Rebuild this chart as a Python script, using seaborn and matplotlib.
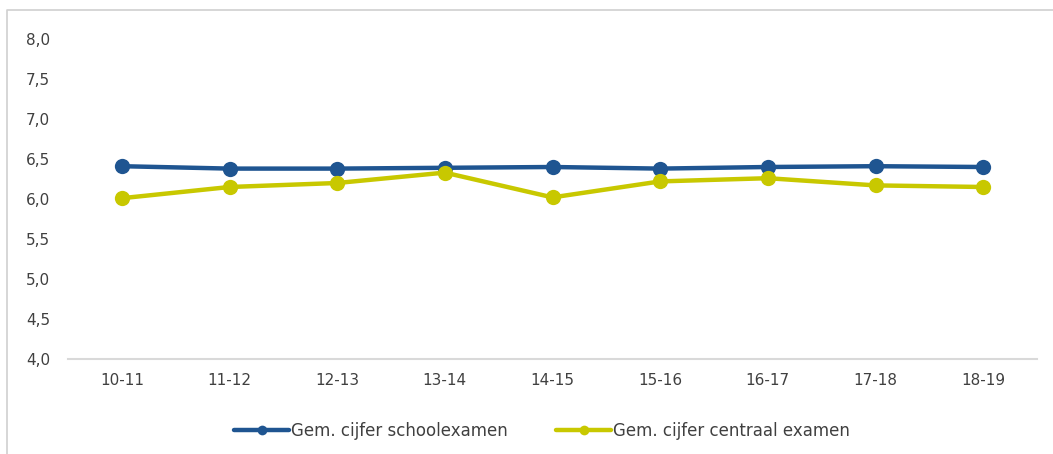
import matplotlib
matplotlib.use("Agg")
import matplotlib.pyplot as plt
import seaborn as sns
import pandas as pd
from matplotlib.lines import Line2D

categories = ["10-11", "11-12", "12-13", "13-14", "14-15", "15-16", "16-17", "17-18", "18-19"]
school_exam = [6.41, 6.38, 6.38, 6.39, 6.40, 6.38, 6.40, 6.41, 6.40]
central_exam = [6.01, 6.15, 6.20, 6.33, 6.02, 6.22, 6.26, 6.17, 6.15]
series_names = ["Gem. cijfer schoolexamen", "Gem. cijfer centraal examen"]
y_ticks = [4.0, 4.5, 5.0, 5.5, 6.0, 6.5, 7.0, 7.5, 8.0]
y_tick_labels = ["4,0", "4,5", "5,0", "5,5", "6,0", "6,5", "7,0", "7,5", "8,0"]

colors = {series_names[0]: "#1F5591", series_names[1]: "#C8C800"}
text_color = "#404040"

df = pd.DataFrame({
    "jaar": categories * 2,
    "cijfer": school_exam + central_exam,
    "serie": [series_names[0]] * len(categories) + [series_names[1]] * len(categories),
})

sns.set_style("white")
plt.rcParams['font.family'] = ['DejaVu Sans']

fig = plt.figure(figsize=(10.53, 4.54), dpi=100)
W, H = 1053, 454
ax = fig.add_axes([68 / W, 1 - 359 / H, (1037 - 68) / W, (359 - 39) / H])

sns.lineplot(data=df, x="jaar", y="cijfer", hue="serie", palette=colors,
             marker="o", markersize=11, markeredgewidth=0, linewidth=3.2,
             sort=False, ax=ax, legend=False)

ax.set_xlim(-0.5, len(categories) - 0.5)
ax.set_ylim(4.0, 8.0)
ax.set_yticks(y_ticks)
ax.set_yticklabels(y_tick_labels)
ax.set_xticks(range(len(categories)))
ax.set_xticklabels(categories)
ax.set_xlabel("")
ax.set_ylabel("")
ax.tick_params(axis="both", length=0, labelsize=11, colors=text_color)
ax.tick_params(axis="y", pad=13)
ax.tick_params(axis="x", pad=10)
for s in ["top", "right", "left"]:
    ax.spines[s].set_visible(False)
ax.spines["bottom"].set_color("#D9D9D9")
ax.spines["bottom"].set_linewidth(1.5)
ax.grid(False)

handles = [Line2D([0], [0], color=colors[n], linewidth=3.2, marker="o", markersize=7,
                  markeredgewidth=0) for n in series_names]
fig.legend(handles, series_names, loc="center", bbox_to_anchor=(542 / W, 1 - 431 / H),
           ncol=2, frameon=False, fontsize=12, labelcolor=text_color,
           handlelength=3.3, handletextpad=0.1, columnspacing=2.9)

# outer frame (top and left)
fig.add_artist(Line2D([7 / W, 7 / W, 1.0], [0.0, 1 - 10 / H, 1 - 10 / H],
                      transform=fig.transFigure, color="#D0D0D0", linewidth=1.2))

fig.savefig("out.png", dpi=100)
